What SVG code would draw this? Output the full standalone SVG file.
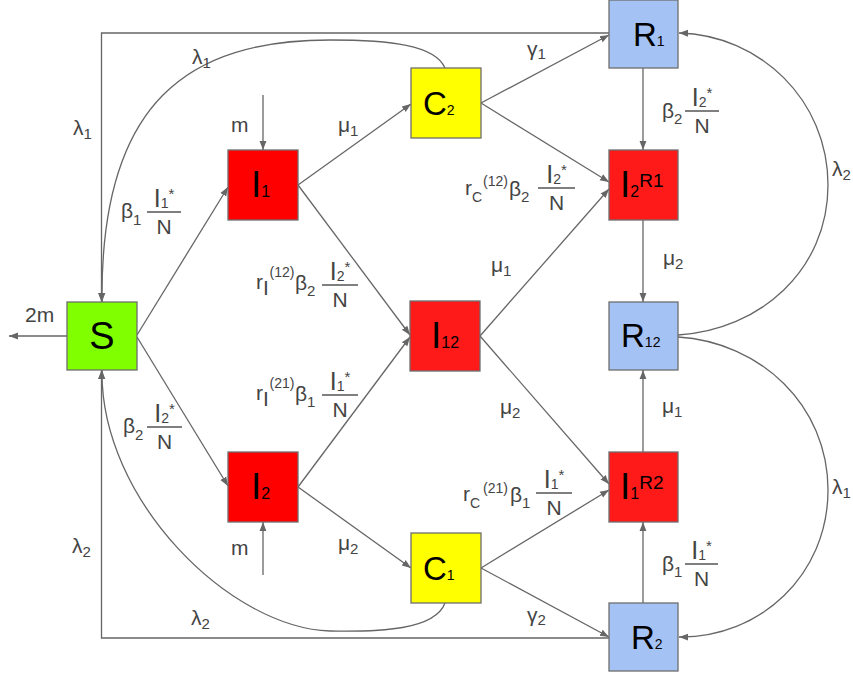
<svg xmlns="http://www.w3.org/2000/svg" width="853" height="677" viewBox="0 0 853 677">
<defs>
<marker id="ah" viewBox="0 0 10 10" refX="10" refY="5" markerWidth="9" markerHeight="9" markerUnits="userSpaceOnUse" orient="auto">
<path d="M0,1.2 L10,5 L0,8.8 z" fill="#666"/>
</marker>
<style>
.e{fill:none;stroke:#666;stroke-width:1.3;marker-end:url(#ah)}
.n{stroke:#6e6e6e;stroke-width:1.3}
.nl{font-family:"Liberation Sans",Arial,sans-serif;fill:#000}
.t{font-family:"Liberation Sans",Arial,sans-serif;fill:#444;font-size:21px}
.s{font-size:15px}
.ss{font-size:14px}
.fl{stroke:#555;stroke-width:1.5}
.red{fill:#ff0000}.red2{fill:#ff1a1a}.yel{fill:#ffff00}.blu{fill:#a4c2f4}.grn{fill:#80ff00}
</style>
</defs>
<rect width="853" height="677" fill="#fff"/>

<g id="connectors">
<path class="e" d="M137,335 L228,187"/>
<path class="e" d="M137,337 L228,486"/>
<path class="e" d="M67,336 L9,336"/>
<path class="e" d="M263,95 L263,150"/>
<path class="e" d="M263,575 L263,522"/>
<path class="e" d="M298,185 L411,104"/>
<path class="e" d="M298,185 L410,335"/>
<path class="e" d="M298,487 L410,337"/>
<path class="e" d="M298,487 L411,568"/>
<path class="e" d="M481,103 L609,35"/>
<path class="e" d="M481,103 L609,182"/>
<path class="e" d="M480,336 L609,189"/>
<path class="e" d="M480,336 L609,484"/>
<path class="e" d="M481,568 L609,490"/>
<path class="e" d="M481,568 L609,637"/>
<path class="e" d="M643,68 L643,150"/>
<path class="e" d="M643,220 L643,302"/>
<path class="e" d="M643,452 L643,370"/>
<path class="e" d="M643,603 L643,522"/>
<path class="e" d="M609,33 L101.5,33 L101.5,302"/>
<path class="e" d="M609,638 L101.5,638 L101.5,370"/>
<path class="e" d="M445,68 C435,45 390,40 330,40 C190,40 100,100 102,302"/>
<path class="e" d="M445,603 C435,630 380,632 330,631 C230,628 100,500 102,370"/>
<path class="e" d="M678,335 C760,330 828,270 828,185 C828,100 760,35 679,33"/>
<path class="e" d="M678,337 C760,342 828,405 828,490 C828,575 760,638 679,637"/>
</g>

<g id="labels">
<text class="t" x="73" y="135">λ<tspan class="s" dy="4">1</tspan></text>
<text class="t" x="192" y="64">λ<tspan class="s" dy="4">1</tspan></text>
<text class="t" x="72" y="553">λ<tspan class="s" dy="4">2</tspan></text>
<text class="t" x="191" y="625">λ<tspan class="s" dy="4">2</tspan></text>
<text class="t" x="832" y="176">λ<tspan class="s" dy="4">2</tspan></text>
<text class="t" x="832" y="494">λ<tspan class="s" dy="4">1</tspan></text>
<text class="t" x="231" y="132">m</text>
<text class="t" x="231" y="555">m</text>
<text class="t" x="25" y="322">2m</text>
<text class="t" x="338" y="132">μ<tspan class="s" dy="4">1</tspan></text>
<text class="t" x="338" y="550">μ<tspan class="s" dy="4">2</tspan></text>
<text class="t" x="527" y="56">γ<tspan class="s" dy="3">1</tspan></text>
<text class="t" x="527" y="622">γ<tspan class="s" dy="3">2</tspan></text>
<text class="t" x="491" y="272">μ<tspan class="s" dy="4">1</tspan></text>
<text class="t" x="500" y="414">μ<tspan class="s" dy="4">2</tspan></text>
<text class="t" x="663" y="265">μ<tspan class="s" dy="4">2</tspan></text>
<text class="t" x="662" y="413">μ<tspan class="s" dy="4">1</tspan></text>

<!-- F1 beta1 I1*/N -->
<text class="t" x="121" y="218">β<tspan class="s" dy="6.5">1</tspan></text>
<text class="t" x="164" y="207" text-anchor="middle"><tspan font-size="25">I</tspan><tspan class="ss" dy="1">1</tspan><tspan class="s" dy="-9">*</tspan></text>
<line class="fl" x1="147" y1="212" x2="181" y2="212"/>
<text class="t" x="164" y="234" font-size="18" text-anchor="middle">N</text>

<!-- F2 beta2 I2*/N -->
<text class="t" x="123" y="433">β<tspan class="s" dy="6.5">2</tspan></text>
<text class="t" x="164.5" y="422" text-anchor="middle"><tspan font-size="25">I</tspan><tspan class="ss" dy="1">2</tspan><tspan class="s" dy="-9">*</tspan></text>
<line class="fl" x1="147" y1="427" x2="182" y2="427"/>
<text class="t" x="164.5" y="449" font-size="18" text-anchor="middle">N</text>

<!-- F3 right beta2 -->
<text class="t" x="662" y="117.5">β<tspan class="s" dy="6.5">2</tspan></text>
<text class="t" x="702" y="106" text-anchor="middle"><tspan font-size="25">I</tspan><tspan class="ss" dy="1">2</tspan><tspan class="s" dy="-9">*</tspan></text>
<line class="fl" x1="685" y1="111" x2="719" y2="111"/>
<text class="t" x="702" y="133" font-size="18" text-anchor="middle">N</text>

<!-- F4 right beta1 -->
<text class="t" x="662" y="570.5">β<tspan class="s" dy="6.5">1</tspan></text>
<text class="t" x="701.5" y="559" text-anchor="middle"><tspan font-size="25">I</tspan><tspan class="ss" dy="1">1</tspan><tspan class="s" dy="-9">*</tspan></text>
<line class="fl" x1="685" y1="564" x2="718" y2="564"/>
<text class="t" x="701.5" y="586" font-size="18" text-anchor="middle">N</text>

<!-- F5 rI(12) -->
<text class="t" x="256" y="289">r</text>
<text class="t" x="263" y="295" font-size="13">I</text>
<text class="t ss" x="269.5" y="277">(12)</text>
<text class="t" x="295" y="290">β<tspan class="s" dy="6">2</tspan></text>
<text class="t" x="340" y="280" text-anchor="middle"><tspan font-size="25">I</tspan><tspan class="ss" dy="1">2</tspan><tspan class="s" dy="-9">*</tspan></text>
<line class="fl" x1="322" y1="285" x2="358" y2="285"/>
<text class="t" x="340" y="307" font-size="18" text-anchor="middle">N</text>

<!-- F6 rI(21) -->
<text class="t" x="256" y="400">r</text>
<text class="t" x="263" y="406" font-size="13">I</text>
<text class="t ss" x="269.5" y="388">(21)</text>
<text class="t" x="295" y="401">β<tspan class="s" dy="6">1</tspan></text>
<text class="t" x="340" y="390" text-anchor="middle"><tspan font-size="25">I</tspan><tspan class="ss" dy="1">1</tspan><tspan class="s" dy="-9">*</tspan></text>
<line class="fl" x1="322" y1="395" x2="358" y2="395"/>
<text class="t" x="340" y="417" font-size="18" text-anchor="middle">N</text>

<!-- F7 rC(12) -->
<text class="t" x="465" y="195">r</text>
<text class="t ss" x="472" y="202">C</text>
<text class="t ss" x="483" y="186">(12)</text>
<text class="t" x="509" y="196">β<tspan class="s" dy="6">2</tspan></text>
<text class="t" x="556.5" y="183" text-anchor="middle"><tspan font-size="25">I</tspan><tspan class="ss" dy="1">2</tspan><tspan class="s" dy="-9">*</tspan></text>
<line class="fl" x1="538" y1="188" x2="575" y2="188"/>
<text class="t" x="556.5" y="210" font-size="18" text-anchor="middle">N</text>

<!-- F8 rC(21) -->
<text class="t" x="463" y="501">r</text>
<text class="t ss" x="470" y="508">C</text>
<text class="t ss" x="483" y="493">(21)</text>
<text class="t" x="510" y="502">β<tspan class="s" dy="6">1</tspan></text>
<text class="t" x="554" y="488" text-anchor="middle"><tspan font-size="25">I</tspan><tspan class="ss" dy="1">1</tspan><tspan class="s" dy="-9">*</tspan></text>
<line class="fl" x1="536" y1="493" x2="572" y2="493"/>
<text class="t" x="554" y="515" font-size="18" text-anchor="middle">N</text>
</g>

<g id="node-S"><rect class="n grn" x="67" y="302" width="70" height="68"/><text class="nl" x="102" y="349" font-size="38" text-anchor="middle">S</text></g>
<g id="node-I1"><rect class="n red" x="228" y="150" width="70" height="70"/><text class="nl" x="251" y="197"><tspan font-size="37">I</tspan><tspan font-size="16">1</tspan></text></g>
<g id="node-I2"><rect class="n red" x="228" y="452" width="70" height="70"/><text class="nl" x="251" y="499"><tspan font-size="37">I</tspan><tspan font-size="16">2</tspan></text></g>
<g id="node-C2"><rect class="n yel" x="411" y="68" width="70" height="70"/><text class="nl" x="423" y="115"><tspan font-size="33">C</tspan><tspan font-size="14">2</tspan></text></g>
<g id="node-I12"><rect class="n red2" x="410" y="301" width="70" height="70"/><text class="nl" x="431" y="348"><tspan font-size="37">I</tspan><tspan font-size="16">12</tspan></text></g>
<g id="node-C1"><rect class="n yel" x="411" y="533" width="70" height="70"/><text class="nl" x="423" y="580"><tspan font-size="33">C</tspan><tspan font-size="14">1</tspan></text></g>
<g id="node-R1"><rect class="n blu" x="609" y="0" width="69" height="68"/><text class="nl" x="633" y="46"><tspan font-size="33">R</tspan><tspan font-size="14">1</tspan></text></g>
<g id="node-I2R1"><rect class="n red2" x="609" y="150" width="69" height="70"/><text class="nl" x="620" y="197"><tspan font-size="37">I</tspan><tspan font-size="16">2</tspan><tspan font-size="19" dy="-10">R1</tspan></text></g>
<g id="node-R12"><rect class="n blu" x="609" y="302" width="69" height="68"/><text class="nl" x="621" y="347"><tspan font-size="33">R</tspan><tspan font-size="14">12</tspan></text></g>
<g id="node-I1R2"><rect class="n red2" x="609" y="452" width="69" height="70"/><text class="nl" x="620" y="499"><tspan font-size="37">I</tspan><tspan font-size="16">1</tspan><tspan font-size="19" dy="-10">R2</tspan></text></g>
<g id="node-R2"><rect class="n blu" x="609" y="603" width="69" height="68"/><text class="nl" x="631" y="649"><tspan font-size="33">R</tspan><tspan font-size="14">2</tspan></text></g>
</svg>
